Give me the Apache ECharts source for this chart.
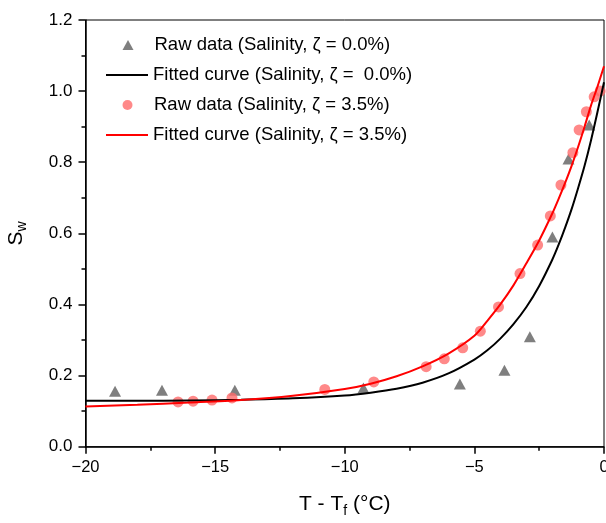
<!DOCTYPE html>
<html>
<head>
<meta charset="utf-8">
<script src="https://cdn.jsdelivr.net/npm/echarts@6/dist/echarts.min.js"></script>
<style>html,body{margin:0;padding:0;background:#fff;overflow:hidden}#c{width:606px;height:523px}</style>
</head>
<body>
<div id="c"></div>
<script>
// Raw data, salinity 0.0%
var rawX0 = [-18.86, -17.05, -14.24, -9.28, -5.56, -3.84, -2.86, -1.99, -1.37, -0.57];
var rawY0 = [0.156, 0.159, 0.159, 0.165, 0.176, 0.215, 0.309, 0.590, 0.809, 0.905];
// Raw data, salinity 3.5%
var rawX35 = [-16.43, -15.85, -15.12, -14.35, -10.77, -8.88, -6.86, -6.16, -5.45, -4.77, -4.07, -3.24, -2.56, -2.07, -1.66, -1.20, -0.96, -0.68, -0.38, -0.15];
var rawY35 = [0.126, 0.128, 0.131, 0.137, 0.161, 0.182, 0.225, 0.247, 0.278, 0.325, 0.393, 0.487, 0.567, 0.649, 0.736, 0.827, 0.891, 0.942, 0.984, 1.000];
// Fitted curves
var fitX = [-20, -18, -16, -14, -12, -10, -9, -8, -7, -6, -5, -4.5, -4, -3.5, -3, -2.5, -2, -1.75, -1.5, -1.25, -1, -0.75, -0.5, -0.25, 0];
var fitY0 = [0.129, 0.129, 0.130, 0.132, 0.136, 0.144, 0.152, 0.163, 0.180, 0.206, 0.245, 0.271, 0.304, 0.344, 0.392, 0.452, 0.525, 0.568, 0.616, 0.668, 0.727, 0.790, 0.862, 0.942, 1.025];
var fitY35 = [0.113, 0.118, 0.124, 0.131, 0.143, 0.162, 0.177, 0.198, 0.226, 0.262, 0.312, 0.354, 0.400, 0.453, 0.515, 0.580, 0.655, 0.697, 0.742, 0.790, 0.843, 0.900, 0.960, 1.013, 1.070];
var xTicks = [-20, -15, -10, -5, 0];
var yTicks = [0.0, 0.2, 0.4, 0.6, 0.8, 1.0, 1.2];
var names = ['Raw data (Salinity, ζ = 0.0%)', 'Fitted curve (Salinity, ζ =  0.0%)', 'Raw data (Salinity, ζ = 3.5%)', 'Fitted curve (Salinity, ζ = 3.5%)'];

function zip(a, b) { return a.map(function (v, i) { return [v, b[i]]; }); }

var FONT = 'Liberation Sans, Arial, sans-serif';
var chart = echarts.init(document.getElementById('c'), null, { renderer: 'canvas', width: 606, height: 523 });

function legendBox(name, top, isLine, icon) {
  return {
    data: [{ name: name, icon: icon }],
    left: isLine ? 106 : 122.5,
    top: top,
    orient: 'vertical',
    padding: 0,
    itemWidth: isLine ? 42 : 11,
    itemHeight: isLine ? 2 : 10,
    selectedMode: false,
    textStyle: { fontFamily: FONT, fontSize: 18.5, color: '#000', lineHeight: 22, padding: [0, 0, 0, isLine ? 0 : 16] }
  };
}

var option = {
  animation: false,
  backgroundColor: '#fff',
  grid: { left: 85.5, top: 20, width: 518.5, height: 426.7, outerBoundsMode: 'none', containLabel: false, show: true, borderColor: '#000', borderWidth: 1 },
  legend: [
    legendBox(names[0], 34, false, 'triangle'),
    legendBox(names[1], 64, true, 'rect'),
    legendBox(names[2], 94, false, 'circle'),
    legendBox(names[3], 124, true, 'rect')
  ],
  xAxis: {
    type: 'value', min: xTicks[0], max: xTicks[xTicks.length - 1], interval: 5,
    name: 'T - T{s|f} (°C)', nameLocation: 'middle', nameGap: 45,
    nameTextStyle: { fontFamily: FONT, fontSize: 21, color: '#000', rich: { s: { fontFamily: FONT, fontSize: 14, verticalAlign: 'bottom', padding: [12, 0, 0, 0] } } },
    axisLine: { onZero: false, lineStyle: { color: '#000', width: 1.5 } },
    axisTick: { inside: false, length: 7, lineStyle: { color: '#000', width: 1.5 } },
    minorTick: { show: true, splitNumber: 2, length: 4, lineStyle: { color: '#000', width: 1.5 } },
    splitLine: { show: false },
    axisLabel: { fontFamily: FONT, fontSize: 16.5, color: '#000', margin: 12, formatter: function (v) { return String(v).replace('-', '\u2212'); } }
  },
  yAxis: {
    type: 'value', min: yTicks[0], max: yTicks[yTicks.length - 1], interval: 0.2,
    name: 'S{s|w}', nameLocation: 'middle', nameGap: 56,
    nameTextStyle: { fontFamily: FONT, fontSize: 21, color: '#000', rich: { s: { fontFamily: FONT, fontSize: 14, verticalAlign: 'bottom', padding: [12, 0, 0, 0] } } },
    axisLine: { onZero: false, lineStyle: { color: '#000', width: 1.5 } },
    axisTick: { inside: false, length: 7, lineStyle: { color: '#000', width: 1.5 } },
    minorTick: { show: true, splitNumber: 2, length: 4, lineStyle: { color: '#000', width: 1.5 } },
    splitLine: { show: false },
    axisLabel: { fontFamily: FONT, fontSize: 17, color: '#000', margin: 13, formatter: function (v) { return v.toFixed(1); } }
  },
  series: [
    { name: names[0], type: 'scatter', data: zip(rawX0, rawY0), symbol: 'triangle', symbolSize: [12, 11], itemStyle: { color: '#5f5f5f' }, z: 3 },
    { name: names[1], type: 'line', data: zip(fitX, fitY0), smooth: 0.3, showSymbol: false, symbol: 'none', lineStyle: { color: '#000', width: 2 }, itemStyle: { color: '#000' }, z: 4 },
    { name: names[2], type: 'scatter', data: zip(rawX35, rawY35), symbol: 'circle', symbolSize: 11, itemStyle: { color: '#ff6b6b' }, z: 3 },
    { name: names[3], type: 'line', data: zip(fitX, fitY35), smooth: 0.3, showSymbol: false, symbol: 'none', lineStyle: { color: '#ff0000', width: 2 }, itemStyle: { color: '#ff0000' }, z: 4 }
  ]
};
chart.setOption(option);
</script>
</body>
</html>
